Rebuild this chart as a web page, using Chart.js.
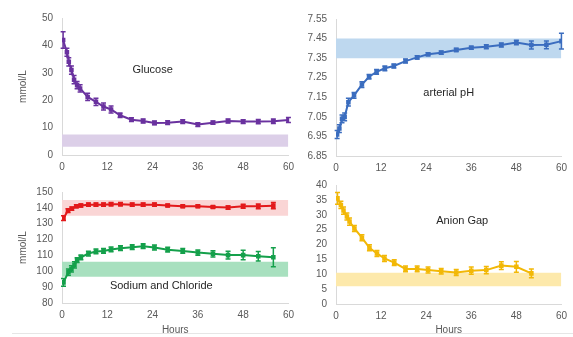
<!DOCTYPE html>
<html>
<head>
<meta charset="utf-8">
<script src="https://cdn.jsdelivr.net/npm/chart.js@4.4.1/dist/chart.umd.min.js"></script>
<style>
html, body { margin: 0; padding: 0; background: #fff; overflow: hidden; }
#wrap { position: relative; width: 573px; height: 337px; }
.panel { position: absolute; z-index: 1; }
#rule { position: absolute; left: 12px; top: 333px; width: 561px; height: 1px; background: #e6e6e6; z-index: 0; }
</style>
</head>
<body>
<div id="wrap">
  <div id="rule"></div>
  <div class="panel" style="left:0;top:0;width:300px;height:180px"><canvas id="glucose"></canvas></div>
  <div class="panel" style="left:275px;top:0;width:298px;height:180px"><canvas id="ph"></canvas></div>
  <div class="panel" style="left:0;top:175px;width:300px;height:162px"><canvas id="nacl"></canvas></div>
  <div class="panel" style="left:275px;top:170px;width:298px;height:167px"><canvas id="gap"></canvas></div>
</div>
<script>
// x axis
const hourTicks = [0, 12, 24, 36, 48, 60];

// glucose (mmol/L)
const glucoseHours = [0.3, 1.3, 1.8, 2.5, 3.2, 4, 4.8, 6.8, 9, 11, 13, 15.4, 18.4, 21.5, 24.5, 28, 32, 36, 40, 44, 48, 52, 56, 60];
const glucoseValues = [42, 37.5, 34, 31, 27.5, 25.5, 24.3, 21.2, 19.4, 17.7, 16.6, 14.5, 12.9, 12.4, 11.7, 11.8, 12.2, 11.1, 11.8, 12.4, 12.2, 12.2, 12.3, 12.8];
const glucoseErr = [3, 1.5, 1.5, 1.5, 1.5, 1.3, 1.3, 1.3, 1.3, 1.3, 1.3, 0.8, 0.7, 0.7, 0.7, 0.7, 0.7, 0.7, 0.6, 0.7, 0.7, 0.8, 0.8, 0.9];
const glucoseRange = [3, 7.5];
const glucoseTicks = [0, 10, 20, 30, 40, 50];

// arterial pH
const phHours = [0.3, 0.9, 1.6, 2.3, 3.3, 4.8, 6.9, 8.8, 10.8, 13, 15.4, 18.5, 21.6, 24.5, 28, 32, 36, 40, 44, 48, 52, 56, 60];
const phValues = [6.96, 6.99, 7.04, 7.05, 7.125, 7.16, 7.215, 7.255, 7.28, 7.298, 7.31, 7.335, 7.354, 7.37, 7.378, 7.392, 7.403, 7.408, 7.417, 7.43, 7.417, 7.418, 7.437];
const phErr = [0.02, 0.02, 0.02, 0.02, 0.02, 0.015, 0.015, 0.012, 0.012, 0.012, 0.01, 0.01, 0.008, 0.008, 0.008, 0.008, 0.008, 0.01, 0.01, 0.012, 0.02, 0.02, 0.04];
const phRange = [7.35, 7.45];
const phTicks = [6.85, 6.95, 7.05, 7.15, 7.25, 7.35, 7.45, 7.55];

// sodium and chloride (mmol/L)
const sodiumHours = [0.4, 1.6, 2.6, 3.8, 5, 7, 9, 11, 13, 15.5, 18.6, 21.5, 24.5, 28, 32, 36, 40, 44, 48, 52, 56];
const sodiumValues = [133.5, 138.3, 139.5, 141, 141.5, 142, 142, 142, 142.3, 142.3, 142, 142, 142, 141.5, 141, 141, 140.6, 140.2, 141, 141, 141.4];
const sodiumErr = [1.5, 1.2, 1, 1, 1, 1, 1, 1, 1, 1, 1, 1, 1, 0.8, 0.8, 0.8, 0.8, 1, 1.2, 1.5, 2];
const sodiumRange = [135, 145];
const chlorideHours = [0.4, 1.7, 2.5, 3.3, 4, 5, 7, 9, 11, 13, 15.5, 18.6, 21.5, 24.5, 28, 32, 36, 40, 44, 48, 52, 56];
const chlorideValues = [93, 99.5, 101.5, 104, 107, 108.8, 111.2, 112.5, 112.8, 113.8, 114.6, 115.2, 115.8, 115, 113.6, 112.8, 111.8, 111, 110.2, 110.2, 109.5, 108.8];
const chlorideErr = [2.5, 2, 2, 2, 1.5, 1.5, 1.5, 1.5, 1.5, 1.5, 1.5, 1.5, 1.5, 1.5, 1.5, 1.5, 1.7, 2, 2.5, 3, 3, 6];
const chlorideRange = [96.5, 106];
const naclTicks = [80, 90, 100, 110, 120, 130, 140, 150];

// anion gap
const gapHours = [0.4, 1.3, 2, 2.9, 3.6, 4.9, 6.9, 8.9, 10.9, 12.9, 15.5, 18.5, 21.6, 24.5, 28, 32, 36, 40, 44, 48, 52];
const gapValues = [35.5, 33.3, 31.4, 29.4, 27.7, 25.4, 22.3, 18.9, 17, 15.3, 13.9, 11.8, 11.8, 11.4, 11, 10.6, 11.2, 11.4, 12.9, 12.5, 10.3];
const gapErr = [2, 1.2, 1.2, 1.2, 1.2, 1, 1, 1, 1, 1, 1, 1, 1, 1, 0.9, 1, 1.2, 1.2, 1.3, 1.8, 1.5];
const gapRange = [6, 10.5];
const gapTicks = [0, 5, 10, 15, 20, 25, 30, 35, 40];

const FONT = '"Liberation Sans", Arial, sans-serif';
const TICK_COLOR = '#595959';
const AXIS_COLOR = '#d9d9d9';

const pts = (xs, ys) => xs.map((x, i) => ({ x: x, y: ys[i] }));

function series(hours, values, errors, color) {
    return {
        data: pts(hours, values),
        errors: errors,
        borderColor: color,
        backgroundColor: color,
        borderWidth: 2,
        pointStyle: 'rect',
        pointRadius: 1.8,
        tension: 0,
        fill: false,
    };
}

function band(range, color) {
    return {
        data: pts([0, 60], [range[1], range[1]]),
        borderWidth: 0,
        pointRadius: 0,
        backgroundColor: color,
        fill: { value: range[0] },
    };
}

// vertical error bars with caps
const errorBars = {
    id: 'errorBars',
    afterDatasetsDraw(chart) {
        const { ctx } = chart;
        const y = chart.scales.y;
        chart.data.datasets.forEach((ds, i) => {
            if (!ds.errors) return;
            const meta = chart.getDatasetMeta(i);
            ctx.save();
            ctx.strokeStyle = ds.borderColor;
            ctx.lineWidth = 1.5;
            meta.data.forEach((pt, j) => {
                const v = ds.data[j].y, e = ds.errors[j];
                const top = y.getPixelForValue(v + e), bot = y.getPixelForValue(v - e);
                ctx.beginPath();
                ctx.moveTo(pt.x, top); ctx.lineTo(pt.x, bot);
                ctx.moveTo(pt.x - 2.5, top); ctx.lineTo(pt.x + 2.5, top);
                ctx.moveTo(pt.x - 2.5, bot); ctx.lineTo(pt.x + 2.5, bot);
                ctx.stroke();
            });
            ctx.restore();
        });
    }
};

// text label inside the plot, placed in data units
const panelLabel = {
    id: 'panelLabel',
    afterDraw(chart, args, o) {
        if (!o.text) return;
        const { ctx, scales: { x, y } } = chart;
        ctx.save();
        ctx.font = '11px ' + FONT;
        ctx.fillStyle = '#262626';
        ctx.textAlign = 'center';
        ctx.textBaseline = 'middle';
        ctx.fillText(o.text, x.getPixelForValue(o.x), y.getPixelForValue(o.y));
        ctx.restore();
    }
};

function makePanel(id, datasets, p) {
    return new Chart(document.getElementById(id), {
        type: 'line',
        data: { datasets: datasets },
        options: {
            responsive: true,
            maintainAspectRatio: false,
            animation: false,
            layout: { padding: { top: p.padTop, right: p.padRight, left: p.padLeft, bottom: 0 } },
            plugins: {
                legend: { display: false },
                tooltip: { enabled: false },
                panelLabel: p.label,
            },
            scales: {
                x: {
                    type: 'linear', min: 0, max: 60,
                    afterBuildTicks: s => { s.ticks = hourTicks.map(v => ({ value: v })); },
                    afterFit: s => { s.height = p.xHeight; },
                    grid: { display: false, drawTicks: false },
                    border: { display: true, color: AXIS_COLOR, width: 1 },
                    ticks: { font: { family: FONT, size: 10 }, color: TICK_COLOR, padding: 6, maxRotation: 0, autoSkip: false },
                    title: { display: p.xTitle, text: 'Hours', font: { family: FONT, size: 10 }, color: TICK_COLOR, padding: { top: 0, bottom: 1 } },
                },
                y: {
                    min: p.ticks[0], max: p.ticks[p.ticks.length - 1],
                    afterBuildTicks: s => { s.ticks = p.ticks.map(v => ({ value: v })); },
                    afterFit: s => { s.width = p.yWidth; },
                    grid: { display: false, drawTicks: false },
                    border: { display: true, color: AXIS_COLOR, width: 1 },
                    ticks: { font: { family: FONT, size: 10 }, color: TICK_COLOR, padding: 9, autoSkip: false, callback: p.fmt },
                    title: { display: p.yTitle, text: 'mmol/L', font: { family: FONT, size: 10 }, color: TICK_COLOR, padding: { top: 5, bottom: 0 } },
                }
            }
        },
        plugins: [errorBars, panelLabel]
    });
}

makePanel('glucose', [
    series(glucoseHours, glucoseValues, glucoseErr, '#6a329f'),
    band(glucoseRange, '#dccfe8'),
], { padTop: 18, padRight: 10, padLeft: 12, yWidth: 50, xHeight: 25, ticks: glucoseTicks, yTitle: true, xTitle: false,
     label: { text: 'Glucose', x: 24, y: 31 } });

makePanel('ph', [
    series(phHours, phValues, phErr, '#3b6dbf'),
    band(phRange, '#bed8ef'),
], { padTop: 19, padRight: 10, padLeft: 0, yWidth: 61, xHeight: 24, ticks: phTicks, yTitle: false, xTitle: false,
     fmt: v => v.toFixed(2),
     label: { text: 'arterial pH', x: 30, y: 7.17 } });

makePanel('nacl', [
    series(sodiumHours, sodiumValues, sodiumErr, '#e3191b'),
    series(chlorideHours, chlorideValues, chlorideErr, '#14a04b'),
    band(sodiumRange, '#fad5d5'),
    band(chlorideRange, '#a8e0bf'),
], { padTop: 17, padRight: 10, padLeft: 12, yWidth: 50, xHeight: 34, ticks: naclTicks, yTitle: true, xTitle: true,
     label: { text: 'Sodium and Chloride', x: 26.3, y: 91 } });

makePanel('gap', [
    series(gapHours, gapValues, gapErr, '#f2b807'),
    band(gapRange, '#fde9ab'),
], { padTop: 15, padRight: 10, padLeft: 0, yWidth: 61, xHeight: 33, ticks: gapTicks, yTitle: false, xTitle: true,
     label: { text: 'Anion Gap', x: 33.6, y: 28 } });
</script>
</body>
</html>
